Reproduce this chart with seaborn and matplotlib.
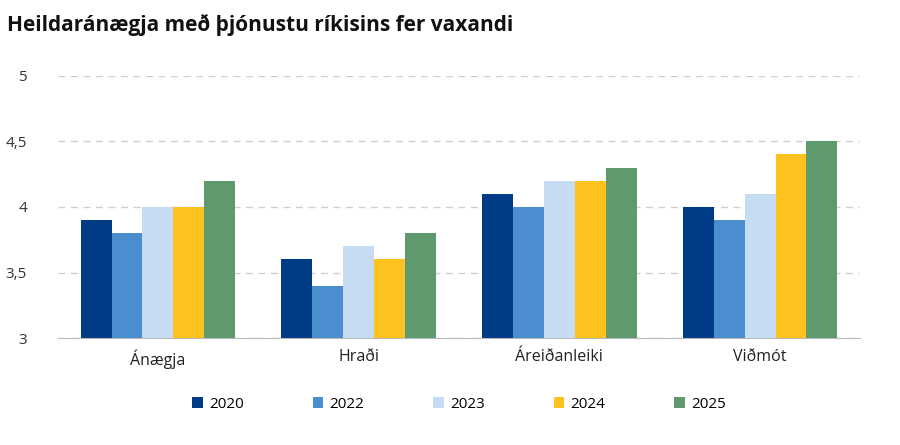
import matplotlib.pyplot as plt
import seaborn as sns
import pandas as pd

categories = ['Ánægja', 'Hraði', 'Áreiðanleiki', 'Viðmót']
years = ['2020', '2022', '2023', '2024', '2025']
values = {
    '2020': [3.9, 3.6, 4.1, 4.0],
    '2022': [3.8, 3.4, 4.0, 3.9],
    '2023': [4.0, 3.7, 4.2, 4.1],
    '2024': [4.0, 3.6, 4.2, 4.4],
    '2025': [4.2, 3.8, 4.3, 4.5],
}
colors = ['#003C85', '#4A8ED0', '#C6DCF3', '#FDC21E', '#5E9A6E']
yticks = [3, 3.5, 4, 4.5, 5]
ytick_labels = ['3', '3,5', '4', '4,5', '5']

rows = [(c, y, values[y][i]) for y in years for i, c in enumerate(categories)]
df = pd.DataFrame(rows, columns=['flokkur', 'ar', 'gildi'])

plt.rcParams['font.family'] = 'Open Sans'
fig = plt.figure(figsize=(9, 4.45), dpi=100)
ax = fig.add_axes([0.064, 0.24, 0.892, 0.59])

sns.barplot(data=df, x='flokkur', y='gildi', hue='ar', palette=colors,
            width=0.77, gap=0, saturation=1, ax=ax, zorder=3)

ax.set_ylim(3, 5)
ax.set_yticks(yticks)
ax.set_yticklabels(ytick_labels, fontsize=11, color='#333333')
ax.tick_params(axis='x', labelsize=11.5, length=0, pad=8, colors='#222222')
ax.tick_params(axis='y', length=0, pad=22)
ax.yaxis.grid(True, linestyle=(0, (5, 4)), color='#D0D0D0', linewidth=1)
ax.set_axisbelow(True)
for s in ['top', 'right', 'left']:
    ax.spines[s].set_visible(False)
ax.spines['bottom'].set_color('#BBBBBB')
ax.set_xlabel('')
ax.set_ylabel('')

ax.legend(loc='upper center', bbox_to_anchor=(0.5, -0.17), ncol=5, frameon=False,
          fontsize=11, handlelength=0.7, handleheight=0.7, columnspacing=4.5,
          handletextpad=0.4)

fig.text(0.008, 0.93, 'Heildaránægja með þjónustu ríkisins fer vaxandi',
         fontsize=15, fontweight='bold', color='#111111')

fig.savefig('out.png', dpi=100)
